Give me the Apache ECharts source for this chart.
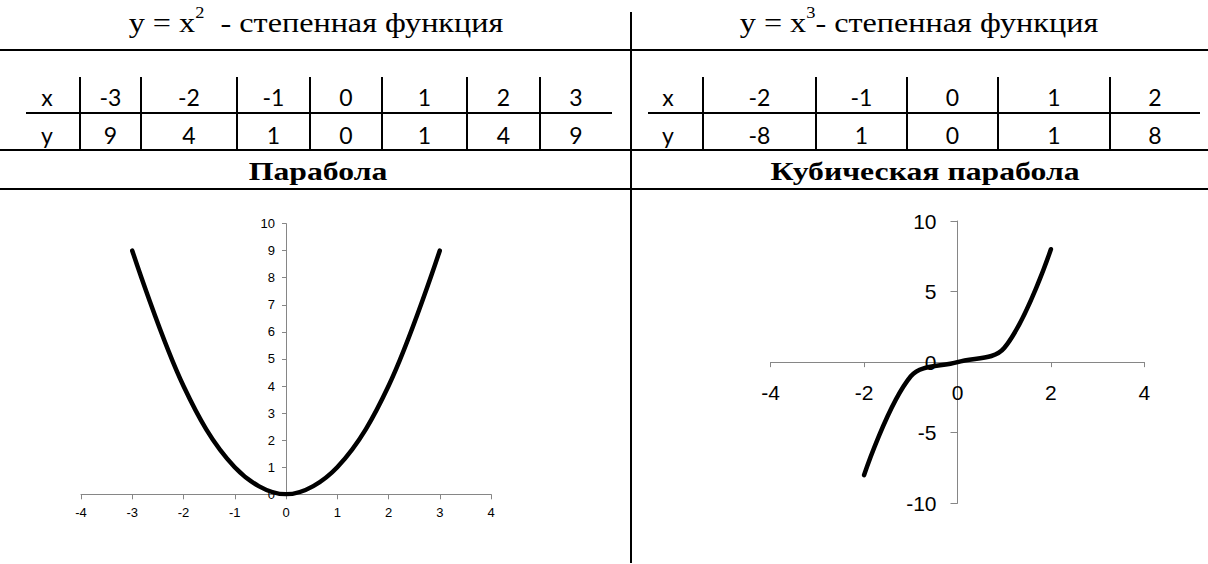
<!DOCTYPE html>
<html>
<head>
<meta charset="utf-8">
<style>
    html, body { margin: 0; padding: 0; background: #fff; }
    #main { width: 1208px; height: 564px; }
</style>
</head>
<body>
<div id="main"></div>
<script src="https://cdn.jsdelivr.net/npm/echarts@6/dist/echarts.min.js"></script>
<script>
    // y = x^2
    var sqX = [-3, -2, -1, 0, 1, 2, 3];
    var sqY = [9, 4, 1, 0, 1, 4, 9];
    // y = x^3 (in the table the value for x = -1 is written as 1)
    var cubeX = [-2, -1, 0, 1, 2];
    var cubeTableY = [-8, 1, 0, 1, 8];
    var cubeY = [-8, -1, 0, 1, 8];

    var sqTicksX = { min: -4, max: 4, interval: 1 };
    var sqTicksY = { min: 0, max: 10, interval: 1 };
    var cubeTicksX = { min: -4, max: 4, interval: 2 };
    var cubeTicksY = { min: -10, max: 10, interval: 5 };

    var serif = '"Liberation Serif", "Times New Roman", serif';
    var tableFont = 'Lato, "Noto Sans", sans-serif';
    var axisFont = '"Liberation Sans", Arial, sans-serif';

    var graphic = [];

    function line(x1, y1, x2, y2) {
        graphic.push({
            type: 'line', silent: true,
            shape: { x1: x1, y1: y1, x2: x2, y2: y2 },
            style: { stroke: '#000', lineWidth: 2 }
        });
    }

    function text(str, x, y, size, family, weight, stretch) {
        graphic.push({
            type: 'text', silent: true, x: x, y: y, scaleX: stretch || 1,
            style: {
                text: str, fill: '#000', fontSize: size, fontFamily: family,
                fontWeight: weight || 'normal', align: 'center', verticalAlign: 'middle'
            }
        });
    }

    function title(base, power, tail, x) {
        graphic.push({
            type: 'text', silent: true, x: x, y: 23, scaleX: 1.15,
            style: {
                text: '{m|' + base + '}{s|' + power + '}{m|' + tail + '}',
                align: 'center', verticalAlign: 'middle',
                rich: {
                    m: { fontSize: 28, fontFamily: serif, fill: '#000', lineHeight: 36 },
                    s: { fontSize: 16, fontFamily: serif, fill: '#000', lineHeight: 16, verticalAlign: 'top' }
                }
            }
        });
    }

    // edges: cell borders, the last one is where the row line ends
    function table(xs, ys, labelX, rowStart, edges) {
        var end = edges[edges.length - 1];
        line(rowStart, 113, end, 113);
        for (var i = 0; i < edges.length - 1; i++) {
            line(edges[i], 77, edges[i], 150);
            var cx = (edges[i] + edges[i + 1]) / 2;
            text(String(xs[i]), cx, 97, 23, tableFont);
            text(String(ys[i]), cx, 135, 23, tableFont);
        }
        text('x', labelX, 97, 23, tableFont);
        text('y', labelX, 135, 23, tableFont);
    }

    // frame
    line(0, 50, 1208, 50);
    line(0, 150, 1208, 150);
    line(0, 189, 1208, 189);
    line(631, 12, 631, 563);

    title('y = x', '2', '  - степенная функция', 316);
    title('y = x', '3', '- степенная функция', 919);

    table(sqX, sqY, 47, 26, [80, 141, 237, 310, 382, 467, 540, 612]);
    table(cubeX, cubeTableY, 668, 648, [703, 816, 907, 998, 1110, 1200]);

    text('Парабола', 318, 171, 26, serif, 'bold', 1.22);
    text('Кубическая парабола', 925, 171, 26, serif, 'bold', 1.22);

    var grids = [
        { left: 81, top: 223.6, width: 410, height: 270.7 },
        { left: 770.7, top: 221, width: 373.6, height: 282.3 }
    ];

    // axes cross at zero: shift the whole axis (line, ticks, labels) there
    function axis(dim, gridIndex, ticks, fontSize, margin, tickLen) {
        var g = grids[gridIndex];
        var size = dim === 'x' ? g.height : g.width;
        var other = dim === 'x' ? (gridIndex === 0 ? sqTicksY : cubeTicksY) : (gridIndex === 0 ? sqTicksX : cubeTicksX);
        var shift = -size * (0 - other.min) / (other.max - other.min);
        return {
            gridIndex: gridIndex, type: 'value',
            min: ticks.min, max: ticks.max, interval: ticks.interval,
            offset: shift,
            axisLine: { show: true, onZero: false, lineStyle: { color: '#868686', width: 1 } },
            axisTick: { show: true, length: tickLen, lineStyle: { color: '#868686', width: 1 } },
            axisLabel: { fontSize: fontSize, fontFamily: axisFont, color: '#000', margin: margin },
            splitLine: { show: false }
        };
    }

    function curve(index, xs, ys) {
        return {
            type: 'line', xAxisIndex: index, yAxisIndex: index,
            data: xs.map(function (x, i) { return [x, ys[i]]; }),
            smooth: 0.35, symbol: 'none', z: 5,
            lineStyle: { color: '#000', width: 4.5, cap: 'round', join: 'round' }
        };
    }

    var chart = echarts.init(document.getElementById('main'), null, { renderer: 'svg' });
    chart.setOption({
        animation: false,
        backgroundColor: '#fff',
        graphic: graphic,
        grid: grids.map(function (g) {
            return { left: g.left, top: g.top, width: g.width, height: g.height, outerBoundsMode: 'none' };
        }),
        xAxis: [
            axis('x', 0, sqTicksX, 13, 12, 5),
            axis('x', 1, cubeTicksX, 21, 20, 5)
        ],
        yAxis: [
            axis('y', 0, sqTicksY, 13, 11, 4),
            axis('y', 1, cubeTicksY, 21, 21, 7)
        ],
        series: [
            curve(0, sqX, sqY),
            curve(1, cubeX, cubeY)
        ]
    });
</script>
</body>
</html>
